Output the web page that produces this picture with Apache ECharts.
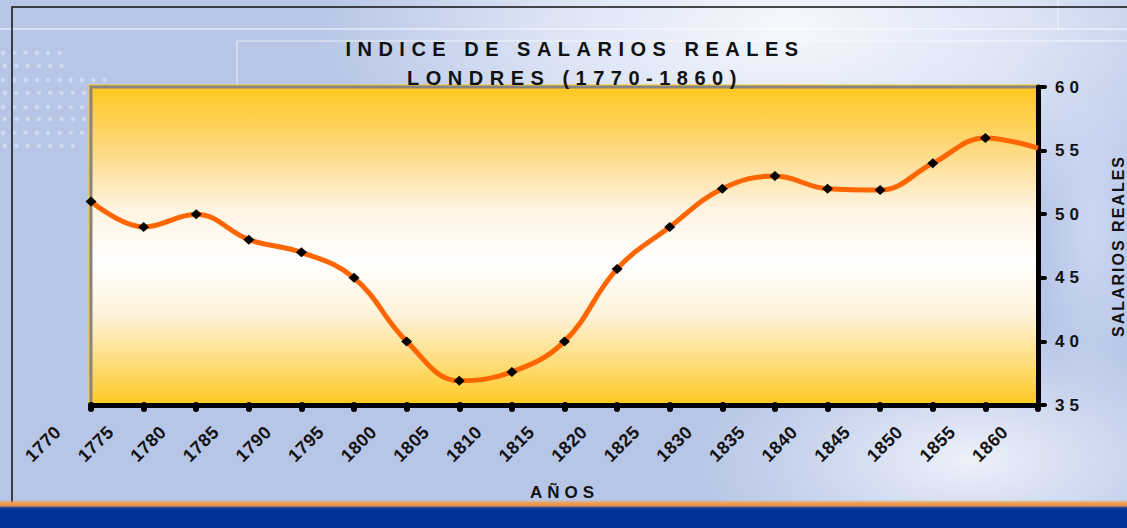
<!DOCTYPE html>
<html>
<head>
<meta charset="utf-8">
<title>Indice de salarios reales - Londres</title>
<script src="https://cdn.jsdelivr.net/npm/echarts@6/dist/echarts.min.js"></script>
<style>
    html, body { margin: 0; padding: 0; }
    #main { width: 1127px; height: 528px; }
    /* espaciado de letras como en el original */
    #main text[style*="20px"] { letter-spacing: 6.5px; }
    #main text[style*="17px"] { letter-spacing: 5px; }
    #main text[style*="18px"] { letter-spacing: 0.5px; }
    #main text[style*="16px"] { letter-spacing: 2px; }
</style>
</head>
<body>
<div id="main"></div>
<script>
    // datos
    var years = ['1770', '1775', '1780', '1785', '1790', '1795', '1800', '1805', '1810', '1815',
                 '1820', '1825', '1830', '1835', '1840', '1845', '1850', '1855', '1860'];
    var salarios = [51, 49, 50, 48, 47, 45, 40, 36.9, 37.6, 40,
                    45.7, 49, 52, 53, 52, 51.9, 54, 56, 55.2];
    var yTicks = [35, 40, 45, 50, 55, 60];

    var FONT = 'Liberation Sans';

    // puntos decorativos del fondo
    var dots = [];
    var dotRows = [[53, 6], [66, 6], [80, 10], [93, 8], [107, 8], [119, 8], [133, 8], [146, 7]];
    dotRows.forEach(function (r, i) {
        for (var k = 0; k < r[1]; k++) {
            dots.push({
                type: 'circle', z: -5, silent: true,
                shape: { cx: 3 + k * 11.3 + (i % 2 ? 2 : 0), cy: r[0], r: 2.2 },
                style: { fill: 'rgba(255,255,255,0.35)' }
            });
        }
    });

    var bg = [
        { type: 'rect', z: -10, silent: true, shape: { x: 0, y: 0, width: 1127, height: 528 },
          style: { fill: '#b7c6e7' } },
        { type: 'rect', z: -9, silent: true, shape: { x: 0, y: 0, width: 1127, height: 528 },
          style: { fill: new echarts.graphic.RadialGradient(0.7, 0.05, 0.42, [
              { offset: 0, color: 'rgba(246,248,253,1)' },
              { offset: 0.5, color: 'rgba(236,241,250,0.7)' },
              { offset: 1, color: 'rgba(236,241,250,0)' }]) } },
        { type: 'rect', z: -9, silent: true, shape: { x: 0, y: 0, width: 1127, height: 528 },
          style: { fill: new echarts.graphic.RadialGradient(0.86, 0.87, 0.25, [
              { offset: 0, color: 'rgba(240,243,250,0.95)' },
              { offset: 1, color: 'rgba(225,232,246,0)' }]) } },
        { type: 'rect', z: -9, silent: true, shape: { x: 1040, y: 100, width: 87, height: 300 },
          style: { fill: new echarts.graphic.RadialGradient(0.6, 0.4, 0.6, [
              { offset: 0, color: 'rgba(205,218,246,0.9)' },
              { offset: 1, color: 'rgba(205,218,246,0)' }]) } },
        // lineas claras
        { type: 'line', z: -4, silent: true, shape: { x1: 0, y1: 29, x2: 1127, y2: 29 },
          style: { stroke: 'rgba(255,255,255,0.45)', lineWidth: 2 } },
        { type: 'line', z: -4, silent: true, shape: { x1: 237, y1: 41, x2: 1127, y2: 41 },
          style: { stroke: 'rgba(255,255,255,0.35)', lineWidth: 2 } },
        { type: 'line', z: -4, silent: true, shape: { x1: 237, y1: 41, x2: 237, y2: 87 },
          style: { stroke: 'rgba(255,255,255,0.35)', lineWidth: 2 } },
        { type: 'line', z: -4, silent: true, shape: { x1: 1058, y1: 0, x2: 1058, y2: 30 },
          style: { stroke: 'rgba(255,255,255,0.35)', lineWidth: 2 } },
        // borde negro
        { type: 'polyline', z: -3, silent: true, shape: { points: [[12, 528], [12, 7], [1127, 7]] },
          style: { stroke: '#111', lineWidth: 1.5, fill: null } },
        // franja inferior
        { type: 'rect', z: -3, silent: true, shape: { x: 0, y: 500, width: 1127, height: 28 },
          style: { fill: new echarts.graphic.LinearGradient(0, 0, 0, 1, [
              { offset: 0, color: 'rgba(240,160,80,0)' },
              { offset: 0.1, color: '#f0a050' },
              { offset: 0.2, color: '#e89448' },
              { offset: 0.28, color: '#1d3f98' },
              { offset: 0.34, color: '#003399' },
              { offset: 1, color: '#003399' }]) } },
        // borde superior del area del grafico
        { type: 'polyline', z: -1, silent: true, shape: { points: [[91, 406], [91, 87], [1038, 87]] },
          style: { stroke: '#ffc81e', lineWidth: 5, fill: null } }
    ].concat(dots);

    var chart = echarts.init(document.getElementById('main'), null, { renderer: 'svg' });

    chart.setOption({
        animation: false,
        title: {
            text: 'INDICE DE SALARIOS REALES\nLONDRES (1770-1860)',
            left: 570, top: 29, textAlign: 'center',
            textStyle: { fontFamily: FONT, fontSize: 20, fontWeight: 'bold', color: '#111', lineHeight: 29 }
        },
        graphic: bg,
        grid: [
            { left: 91, top: 87, width: 947, height: 318, show: true,
              outerBoundsMode: 'none', containLabel: false,
              borderColor: '#858585', borderWidth: 3,
              backgroundColor: new echarts.graphic.LinearGradient(0, 0, 0, 1, [
                  { offset: 0, color: '#ffc81e' },
                  { offset: 0.18, color: '#fdd777' },
                  { offset: 0.38, color: '#fff3e0' },
                  { offset: 0.55, color: '#ffffff' },
                  { offset: 0.72, color: '#fff2d8' },
                  { offset: 0.88, color: '#ffdb72' },
                  { offset: 1, color: '#ffc81e' }]) },
            // rejilla solo para las etiquetas de los años
            { left: 58, top: 87, width: 947, height: 318, outerBoundsMode: 'none', containLabel: false }
        ],
        xAxis: [
            { type: 'category', gridIndex: 0, data: years, boundaryGap: false,
              name: 'AÑOS', nameLocation: 'middle', nameGap: 79,
              nameTextStyle: { fontFamily: FONT, fontSize: 17, fontWeight: 'bold', color: '#111' },
              axisLine: { lineStyle: { color: '#000', width: 5 } },
              axisTick: { interval: 0, length: 4, lineStyle: { color: '#000', width: 6, cap: 'round' } },
              axisLabel: { show: false } },
            { type: 'category', gridIndex: 1, data: years, boundaryGap: false,
              axisLine: { show: false }, axisTick: { show: false },
              axisLabel: { interval: 0, rotate: 45, margin: 24,
                           fontFamily: FONT, fontSize: 18, fontWeight: 'bold', color: '#111' } }
        ],
        yAxis: [
            { type: 'value', gridIndex: 0, position: 'right', min: yTicks[0], max: yTicks[yTicks.length - 1], interval: 5,
              name: 'SALARIOS REALES', nameLocation: 'middle', nameRotate: 90, nameGap: 72,
              nameTextStyle: { fontFamily: FONT, fontSize: 16, fontWeight: 'bold', color: '#111' },
              axisLine: { show: true, lineStyle: { color: '#000', width: 5 } },
              axisTick: { show: true, length: 7, lineStyle: { color: '#000', width: 4, cap: 'round' } },
              axisLabel: { margin: 17, fontFamily: FONT, fontSize: 17, fontWeight: 'bold', color: '#111' },
              splitLine: { show: false } },
            { type: 'value', gridIndex: 1, show: false, min: 35, max: 60 }
        ],
        series: [{
            type: 'line',
            xAxisIndex: 0, yAxisIndex: 0,
            data: salarios.map(function (v, i) {
                return i === salarios.length - 1 ? { value: v, symbol: 'none' } : v;
            }),
            smooth: 0.4,
            symbol: 'diamond',
            symbolSize: [11, 10],
            itemStyle: { color: '#000' },
            lineStyle: { color: '#ff6600', width: 5 },
            z: 3
        }]
    });
</script>
</body>
</html>
